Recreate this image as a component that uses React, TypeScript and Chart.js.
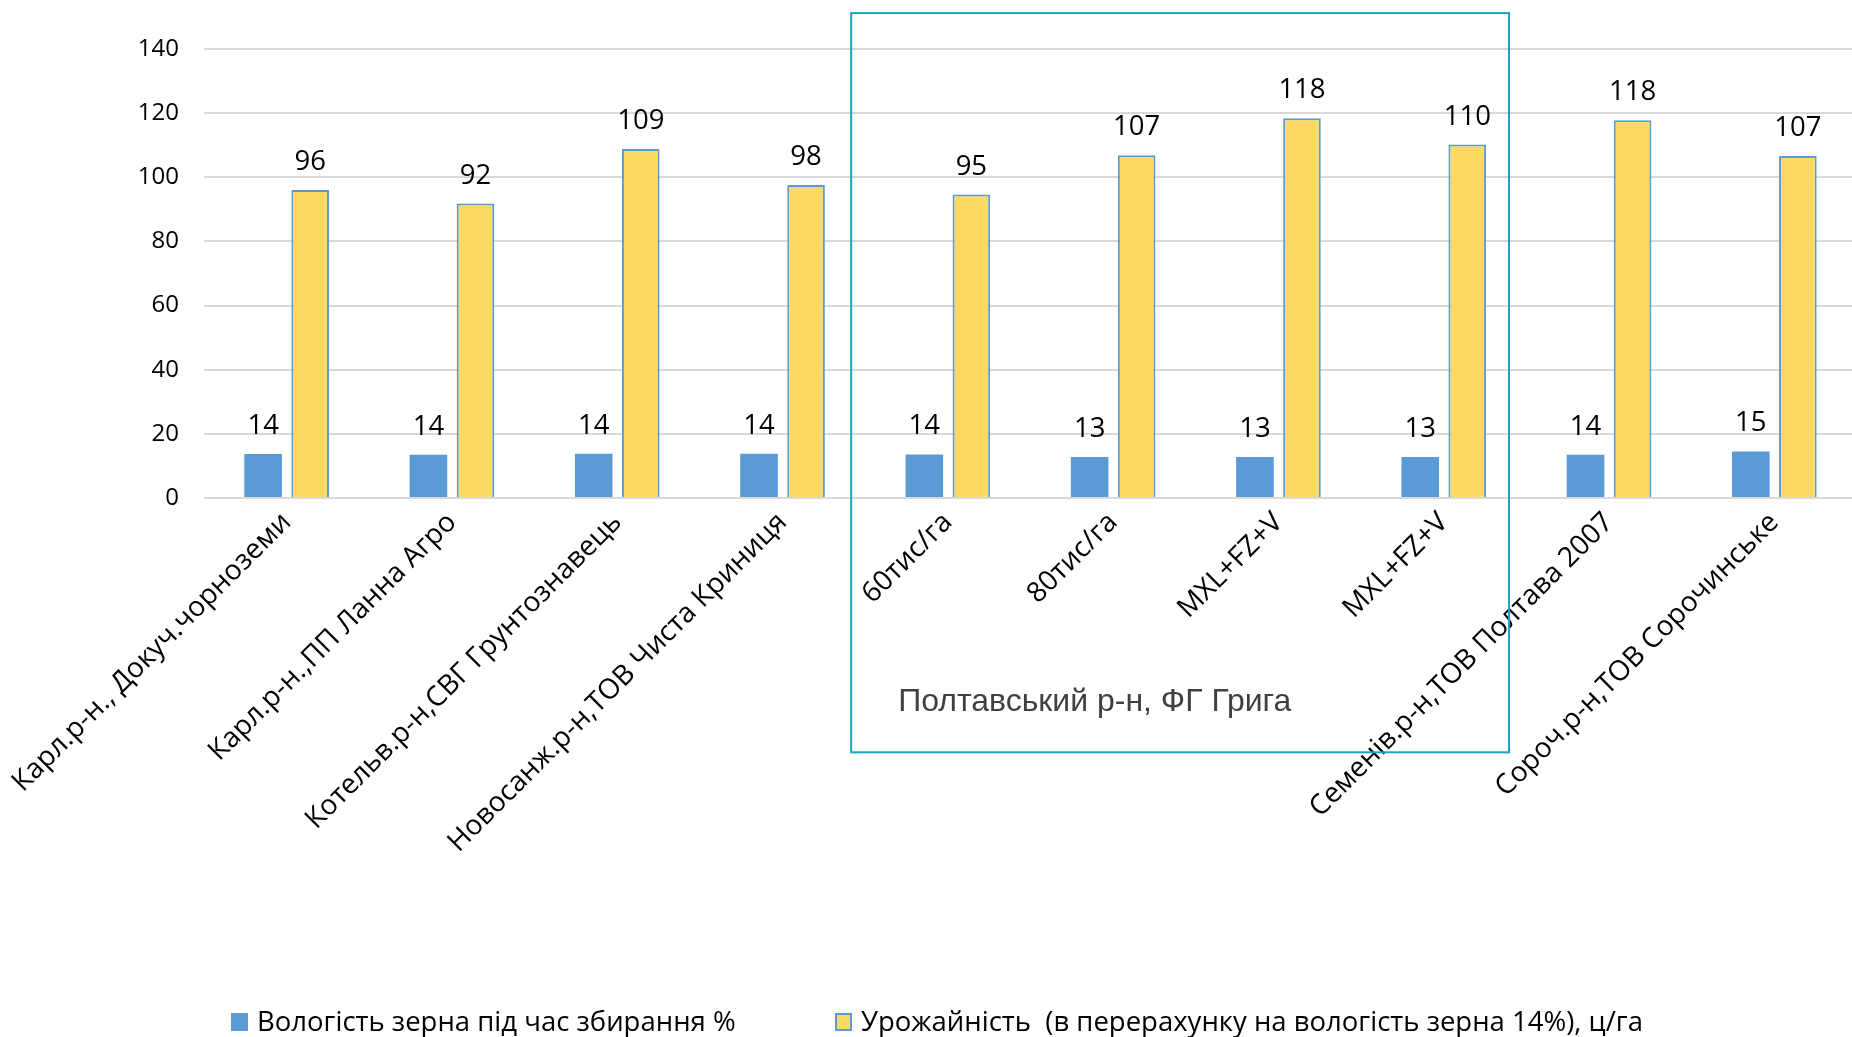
import React, { useEffect, useRef } from "react";
import { Chart, registerables } from "chart.js";

Chart.register(...registerables);

const categories = [
  "Карл.р-н., Докуч.чорноземи",
  "Карл.р-н.,ПП Ланна Агро",
  "Котельв.р-н,СВГ Грунтознавець",
  "Новосанж.р-н,ТОВ Чиста Криниця",
  "60тис/га",
  "80тис/га",
  "MXL+FZ+V",
  "MXL+FZ+V",
  "Семенів.р-н,ТОВ Полтава 2007",
  "Сороч.р-н,ТОВ Сорочинське",
];

const moisture = [13.7, 13.5, 13.8, 13.8, 13.6, 12.8, 12.8, 12.8, 13.5, 14.5];
const yieldValues = [96.0, 91.8, 108.8, 97.6, 94.6, 106.9, 118.4, 110.2, 117.8, 106.6];

const seriesNames = [
  "Вологість зерна під час збирання %",
  "Урожайність  (в перерахунку на вологість зерна 14%), ц/га",
];

const yMin = 0;
const yMax = 140;
const yStep = 20;

const groupLabel = "Полтавський р-н, ФГ Грига";

const BLUE = "#5b9bd5";
const YELLOW = "#ffd966";
const TEAL = "#1aa3c2";
const FONT = "'Open Sans', 'Noto Sans', sans-serif";

const CANVAS_W = 1860;
const CANVAS_H = 1037;

const dataLabelsPlugin = {
  id: "dataLabels",
  afterDatasetsDraw(chart: any) {
    const ctx = chart.ctx;
    ctx.save();
    ctx.font = `27.5px ${FONT}`;
    ctx.fillStyle = "#000";
    ctx.textAlign = "center";
    ctx.textBaseline = "alphabetic";
    chart.data.datasets.forEach((ds: any, di: number) => {
      const meta = chart.getDatasetMeta(di);
      meta.data.forEach((bar: any, i: number) => {
        const v = ds.data[i];
        ctx.fillText(String(Math.round(v)), bar.x, bar.y - 20);
      });
    });
    ctx.restore();
  },
};

const groupBoxPlugin = {
  id: "groupBox",
  afterDraw(chart: any) {
    const ctx = chart.ctx;
    const xs = chart.scales.x;
    const ys = chart.scales.y;
    const left = xs.getPixelForValue(3.415);
    const right = xs.getPixelForValue(7.395);
    const top = ys.getPixelForValue(151.2);
    const bottom = ys.getPixelForValue(-79.3);
    ctx.save();
    ctx.strokeStyle = TEAL;
    ctx.lineWidth = 2;
    ctx.strokeRect(left, top, right - left, bottom - top);
    ctx.font = `32px 'Liberation Sans', Arial, sans-serif`;
    ctx.fillStyle = "#404040";
    ctx.textAlign = "left";
    ctx.textBaseline = "alphabetic";
    ctx.fillText(groupLabel, left + 47, ys.getPixelForValue(-66.3));
    ctx.restore();
  },
};

const legendPlugin = {
  id: "customLegend",
  afterDraw(chart: any) {
    const ctx = chart.ctx;
    ctx.save();
    ctx.font = `27.5px ${FONT}`;
    ctx.textAlign = "left";
    ctx.textBaseline = "alphabetic";
    const items = [
      { x: 231, fill: BLUE, stroke: null as string | null },
      { x: 835, fill: YELLOW, stroke: BLUE },
    ];
    items.forEach((it, i) => {
      ctx.fillStyle = it.fill;
      ctx.fillRect(it.x, 1013, 17, 18);
      if (it.stroke) {
        ctx.strokeStyle = it.stroke;
        ctx.lineWidth = 2;
        ctx.strokeRect(it.x + 1, 1014, 15, 16);
      }
      ctx.fillStyle = "#000";
      ctx.fillText(chart.data.datasets[i].label, it.x + 26, 1031);
    });
    ctx.restore();
  },
};

export default function App() {
  const canvasRef = useRef<HTMLCanvasElement | null>(null);

  useEffect(() => {
    const canvas = canvasRef.current;
    if (!canvas) return;
    const chart = new Chart(canvas, {
      type: "bar",
      data: {
        labels: categories,
        datasets: [
          {
            label: seriesNames[0],
            data: moisture,
            backgroundColor: BLUE,
            borderWidth: 0,
            categoryPercentage: 0.569,
            barPercentage: 0.8,
          },
          {
            label: seriesNames[1],
            data: yieldValues,
            backgroundColor: YELLOW,
            borderColor: BLUE,
            borderWidth: 2,
            categoryPercentage: 0.569,
            barPercentage: 0.8,
          },
        ],
      },
      options: {
        responsive: false,
        animation: false,
        devicePixelRatio: 1,
        layout: { padding: { top: 49, right: 3, left: 0, bottom: 0 } },
        plugins: {
          legend: { display: false },
          tooltip: { enabled: false },
          title: { display: false },
        },
        scales: {
          x: {
            grid: { display: false, drawTicks: false },
            border: { display: false },
            ticks: {
              autoSkip: false,
              minRotation: 45,
              maxRotation: 45,
              padding: 8,
              color: "#000",
              font: { family: FONT, size: 28 },
            },
            afterFit(scale: any) {
              scale.height = CANVAS_H - 498;
              scale.paddingLeft = 0;
              scale.paddingRight = 0;
            },
          },
          y: {
            min: yMin,
            max: yMax,
            grid: { color: "#d9d9d9", lineWidth: 2, drawTicks: false },
            border: { display: false },
            ticks: {
              stepSize: yStep,
              padding: 25,
              color: "#000",
              font: { family: FONT, size: 24 },
            },
            afterFit(scale: any) {
              scale.width = 204;
            },
          },
        },
      },
      plugins: [dataLabelsPlugin, groupBoxPlugin, legendPlugin],
    });
    return () => chart.destroy();
  }, []);

  return (
    <div
      style={{
        position: "fixed",
        left: 0,
        top: 0,
        width: 1852,
        height: 1037,
        overflow: "hidden",
        background: "#fff",
      }}
    >
      <canvas
        ref={canvasRef}
        width={CANVAS_W}
        height={CANVAS_H}
        style={{ width: CANVAS_W, height: CANVAS_H, display: "block" }}
      />
    </div>
  );
}
